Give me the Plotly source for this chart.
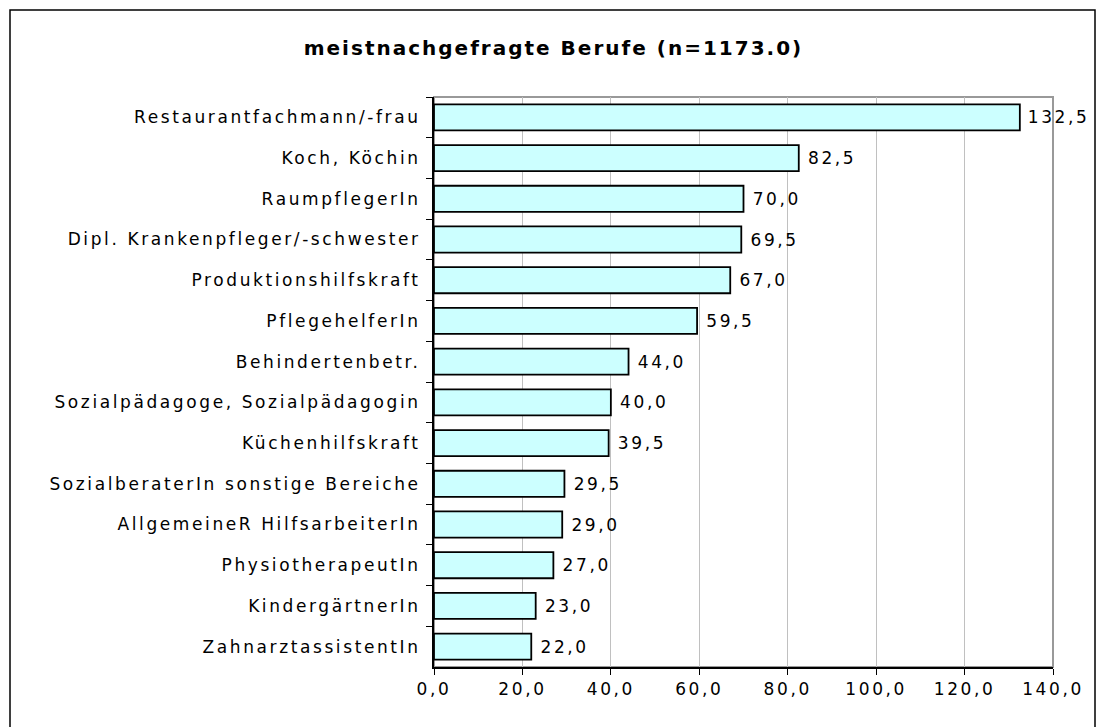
import plotly.graph_objects as go

categories = [
    "Restaurantfachmann/-frau",
    "Koch, Köchin",
    "RaumpflegerIn",
    "Dipl. Krankenpfleger/-schwester",
    "Produktionshilfskraft",
    "PflegehelferIn",
    "Behindertenbetr.",
    "Sozialpädagoge, Sozialpädagogin",
    "Küchenhilfskraft",
    "SozialberaterIn sonstige Bereiche",
    "AllgemeineR HilfsarbeiterIn",
    "PhysiotherapeutIn",
    "KindergärtnerIn",
    "ZahnarztassistentIn",
]
values = [132.5, 82.5, 70.0, 69.5, 67.0, 59.5, 44.0, 40.0, 39.5, 29.5, 29.0, 27.0, 23.0, 22.0]
x_ticks = [0, 20, 40, 60, 80, 100, 120, 140]
title = "meistnachgefragte Berufe (n=1173.0)"

W, H = 1096, 727
L, R, T, B = 434, 1053, 97, 667

labels = ["\u00a0\u2009" + f"{v:.1f}".replace(".", ",") for v in values]
FONT = "DejaVu Sans"
FS = 17

fig = go.Figure(go.Bar(
    x=values, y=categories, orientation="h",
    marker=dict(color="#CCFFFF", line=dict(color="black", width=1.8)),
    text=labels, textposition="outside", cliponaxis=False,
    textfont=dict(family=FONT, size=FS, color="black"),
))

fig.update_layout(
    width=W, height=H,
    margin=dict(l=L, r=W - R, t=T, b=H - B, autoexpand=False),
    paper_bgcolor="white", plot_bgcolor="white",
    bargap=0.36,
    showlegend=False,
    font=dict(family=FONT, size=FS, color="black"),
    title=dict(text=f"<b>{title}</b>", x=0.505, xanchor="center", xref="container",
               y=1 - 48 / H, yanchor="middle", font=dict(family=FONT, size=20, color="black")),
    xaxis=dict(range=[0, 140], tickvals=x_ticks, ticktext=[f"{t:.1f}".replace(".", ",") for t in x_ticks],
               showgrid=True, gridcolor="#C0C0C0", gridwidth=1,
               showline=True, linecolor="black", linewidth=2, ticks="outside", ticklen=6,
               tickcolor="black", zeroline=False, fixedrange=True,
               tickfont=dict(family=FONT, size=FS)),
    yaxis=dict(autorange="reversed", showline=True, linecolor="black", linewidth=2,
               ticks="outside", tickson="boundaries", ticklen=6, tickcolor="black",
               showgrid=False, ticklabelstandoff=8, tickfont=dict(family=FONT, size=FS)),
    shapes=[
        dict(type="rect", xref="paper", yref="paper", x0=0, x1=1, y0=0, y1=1,
             line=dict(color="#999999", width=2), layer="below"),
        dict(type="rect", xref="paper", yref="paper",
             x0=(10 - L) / (R - L), x1=(1095 - L) / (R - L),
             y0=(B - 730) / (B - T), y1=(B - 10) / (B - T),
             line=dict(color="black", width=1.5)),
    ],
)

post = (
    "var s=document.createElement('style');"
    "s.innerHTML='body{margin:0;padding:0} .xtick text,.ytick text,.bartext{letter-spacing:2.6px !important}"
    " .gtitle{letter-spacing:2px !important}';"
    "document.head.appendChild(s);"
)

fig.write_html("out.html", post_script=post, config={"displayModeBar": False})
